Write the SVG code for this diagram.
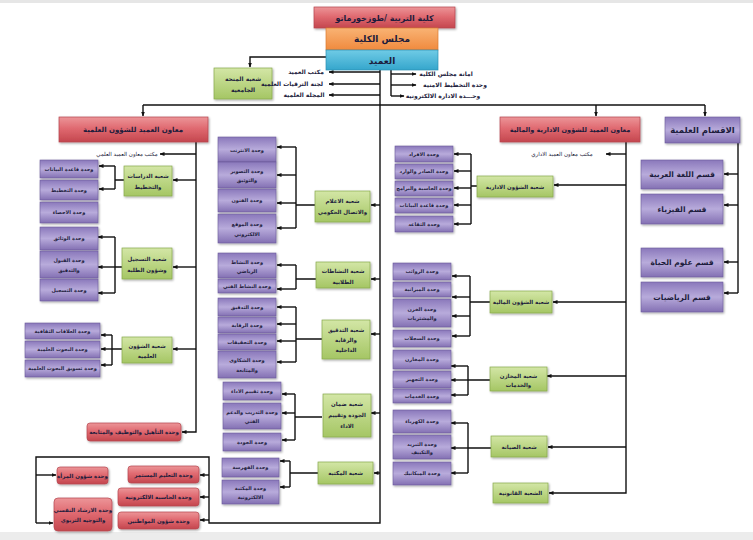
<svg xmlns="http://www.w3.org/2000/svg" width="753" height="540" viewBox="0 0 753 540">
<defs>
<linearGradient id="gR" x1="0" y1="0" x2="0" y2="1"><stop offset="0" stop-color="#ec9598"/><stop offset="0.45" stop-color="#e06a71"/><stop offset="1" stop-color="#c4464e"/></linearGradient>
<linearGradient id="gP" x1="0" y1="0" x2="0" y2="1"><stop offset="0" stop-color="#8a78bb"/><stop offset="0.5" stop-color="#b8abdb"/><stop offset="1" stop-color="#8370b3"/></linearGradient>
<linearGradient id="gG" x1="0" y1="0" x2="0" y2="1"><stop offset="0" stop-color="#d3e6a6"/><stop offset="1" stop-color="#a5c664"/></linearGradient>
<linearGradient id="gO" x1="0" y1="0" x2="0" y2="1"><stop offset="0" stop-color="#f9b374"/><stop offset="1" stop-color="#f08a3e"/></linearGradient>
<linearGradient id="gB" x1="0" y1="0" x2="0" y2="1"><stop offset="0" stop-color="#6fcbe6"/><stop offset="1" stop-color="#35a6cc"/></linearGradient>
<filter id="sh" x="-10%" y="-10%" width="130%" height="150%"><feDropShadow dx="1" dy="1.2" stdDeviation="0.8" flood-color="#000" flood-opacity="0.35"/></filter>
<marker id="ah" viewBox="0 0 10 10" refX="9" refY="5" markerWidth="5" markerHeight="5" markerUnits="userSpaceOnUse" orient="auto"><path d="M0,1 L10,5 L0,9 z" fill="#111"/></marker>
</defs>
<style>
.red{fill:url(#gR);stroke:#b5454d;stroke-width:.7;filter:url(#sh)}
.pur{fill:url(#gP);stroke:#6b5a9c;stroke-width:.6;filter:url(#sh)}
.grn{fill:url(#gG);stroke:#88a94c;stroke-width:.7;filter:url(#sh)}
.org{fill:url(#gO);stroke:#d97a30;stroke-width:.7}
.blu{fill:url(#gB);stroke:#2b8fb3;stroke-width:.7}
.ln{fill:none;stroke:#111;stroke-width:1.4}
.ar{fill:none;stroke:#111;stroke-width:1.4;marker-end:url(#ah)}
text{font-family:"DejaVu Sans","Noto Sans",sans-serif;font-weight:bold;fill:#1c1c3c;text-anchor:middle}
.s5{font-size:5px}.s55{font-size:5.5px}.s6{font-size:6px}.s65{font-size:6.5px}.s7{font-size:7px}.s75{font-size:7.5px}.s8{font-size:8px}.s85{font-size:8.5px}.s9{font-size:9px}
.nw{font-weight:normal}
</style>
<rect x="0" y="0" width="753" height="3" fill="#e6e6e6"/>
<rect x="0" y="532" width="753" height="8" fill="#ececec"/>

<g id="connectors">
<path class="ln" d="M380,70 V523 H209 V457 H36 V523"/>
<path class="ar" d="M36,523 H53"/>
<path class="ar" d="M36,475 H56"/>
<path class="ar" d="M209,475 H200"/>
<path class="ar" d="M209,497 H200"/>
<path class="ar" d="M209,520 H200"/>
<path class="ar" d="M326,57 H250 V67"/>
<path class="ar" d="M380,72 H329"/>
<path class="ar" d="M380,84 H329"/>
<path class="ar" d="M380,95 H329"/>
<path class="ln" d="M391,70 V96"/>
<path class="ar" d="M391,74 H416"/>
<path class="ar" d="M391,85 H416"/>
<path class="ar" d="M391,96 H404"/>
<path class="ln" d="M143,105 H705"/>
<path class="ar" d="M143,105 V116"/>
<path class="ar" d="M596,105 V116"/>
<path class="ar" d="M705,105 V116"/>
<path class="ln" d="M738,143 V293"/>
<path class="ar" d="M738,174 H724"/>
<path class="ar" d="M738,205 H724"/>
<path class="ar" d="M738,262 H724"/>
<path class="ar" d="M738,293 H724"/>
<path class="ar" d="M196,142 V432 H182"/>
<path class="ar" d="M196,154 H160"/>
<path class="ar" d="M196,180 H173"/>
<path class="ar" d="M196,267 H173"/>
<path class="ar" d="M196,349 H173"/>
<path class="ln" d="M124,180 H115 M115,166 V189"/>
<path class="ar" d="M115,166 H99"/>
<path class="ar" d="M115,189 H99"/>
<path class="ln" d="M122,267 H115 M115,237 V293"/>
<path class="ar" d="M115,237 H98"/>
<path class="ar" d="M115,267 H98"/>
<path class="ar" d="M115,293 H98"/>
<path class="ln" d="M122,349 H112 M112,335 V365"/>
<path class="ar" d="M112,335 H101"/>
<path class="ar" d="M112,349 H101"/>
<path class="ar" d="M112,365 H101"/>
<path class="ar" d="M380,205 H371"/>
<path class="ar" d="M380,279 H371"/>
<path class="ar" d="M380,334 H371"/>
<path class="ar" d="M380,413 H371"/>
<path class="ar" d="M380,473 H374"/>
<path class="ln" d="M315,205 H296 M296,147 V228"/>
<path class="ar" d="M296,147 H277"/>
<path class="ar" d="M296,175 H277"/>
<path class="ar" d="M296,203 H277"/>
<path class="ar" d="M296,228 H277"/>
<path class="ln" d="M316,279 H296 M296,265 V289"/>
<path class="ar" d="M296,265 H277"/>
<path class="ar" d="M296,289 H277"/>
<path class="ln" d="M322,339 H296 M296,307 V362"/>
<path class="ar" d="M296,307 H277"/>
<path class="ar" d="M296,324 H277"/>
<path class="ar" d="M296,341 H277"/>
<path class="ar" d="M296,362 H277"/>
<path class="ln" d="M322,417 H295 M295,394 V440"/>
<path class="ar" d="M295,394 H282"/>
<path class="ar" d="M295,413 H282"/>
<path class="ar" d="M295,440 H282"/>
<path class="ln" d="M318,473 H290 M290,461 V487"/>
<path class="ar" d="M290,461 H280"/>
<path class="ar" d="M290,487 H280"/>
<path class="ar" d="M626,142 V493 H549"/>
<path class="ar" d="M626,154 H606"/>
<path class="ar" d="M626,185 H554"/>
<path class="ar" d="M626,302 H553"/>
<path class="ar" d="M626,376 H547"/>
<path class="ar" d="M626,447 H548"/>
<path class="ln" d="M477,186 H471 M471,154 V224"/>
<path class="ar" d="M471,154 H454"/>
<path class="ar" d="M471,171 H454"/>
<path class="ar" d="M471,188 H454"/>
<path class="ar" d="M471,205 H454"/>
<path class="ar" d="M471,224 H454"/>
<path class="ln" d="M490,302 H470 M470,276 V336"/>
<path class="ar" d="M470,276 H452"/>
<path class="ar" d="M470,297 H452"/>
<path class="ar" d="M470,316 H452"/>
<path class="ar" d="M470,336 H452"/>
<path class="ln" d="M490,380 H468 M468,366 V395"/>
<path class="ar" d="M468,366 H451"/>
<path class="ar" d="M468,380 H451"/>
<path class="ar" d="M468,395 H451"/>
<path class="ln" d="M491,448 H468 M468,423 V473"/>
<path class="ar" d="M468,423 H451"/>
<path class="ar" d="M468,448 H451"/>
<path class="ar" d="M468,473 H451"/>
</g>

<g id="college"><rect class="red" x="314" y="7" width="141" height="21"/><text class="s8" x="384.5" y="20.5">كلية التربية /طوزخورماتو</text></g>
<g id="council"><rect class="org" x="326" y="28" width="112" height="22"/><text class="s9" x="382" y="42">مجلس الكلية</text></g>
<g id="dean"><rect class="blu" x="326" y="50" width="112" height="20"/><text class="s9" x="382" y="63.5">العميد</text></g>
<g id="grant"><rect class="grn" x="214" y="68" width="58" height="31"/><text class="s6" x="243" y="81">شعبة المنحة</text><text class="s6" x="243" y="92">الجامعية</text></g>
<g id="dean-office"><text class="s6" x="306" y="74">مكتب العميد</text></g>
<g id="promotion"><text class="s6" x="292" y="86">لجنة الترقيات العلمية</text></g>
<g id="journal"><text class="s6" x="304" y="97">المجلة العلمية</text></g>
<g id="council-sec"><text class="s6" x="446" y="76">امانة مجلس الكلية</text></g>
<g id="security"><text class="s6" x="455" y="87">وحدة التخطيط الامنية</text></g>
<g id="egov"><text class="s6" x="443" y="98">وحـــدة الادارة الالكترونية</text></g>

<g id="vp-sci"><rect class="red" x="59" y="117" width="149" height="25"/><text class="s7" x="133" y="132">معاون العميد للشؤون العلمية</text></g>
<g id="vp-adm"><rect class="red" x="500" y="117" width="140" height="25"/><text class="s65" x="570" y="132">معاون العميد للشؤون الادارية والمالية</text></g>
<g id="depts"><rect class="pur" x="665" y="117" width="75" height="26"/><text class="s85" x="702.5" y="133">الاقسام العلمية</text></g>

<g id="dept-arabic"><rect class="pur" x="641" y="160" width="82" height="29"/><text class="s75" x="682" y="177">قسم اللغة العربية</text></g>
<g id="dept-physics"><rect class="pur" x="641" y="194" width="82" height="30"/><text class="s75" x="682" y="211.5">قسم الفيزياء</text></g>
<g id="dept-bio"><rect class="pur" x="641" y="248" width="82" height="29"/><text class="s75" x="682" y="265">قسم علوم الحياة</text></g>
<g id="dept-math"><rect class="pur" x="641" y="282" width="82" height="30"/><text class="s75" x="682" y="299.5">قسم الرياضيات</text></g>

<g id="vp-sci-office"><text class="s55 nw" x="127" y="156">مكتب معاون العميد العلمي</text></g>
<g id="studies"><rect class="grn" x="124" y="166" width="48" height="30"/><text class="s55" x="148" y="178">شعبة الدراسات</text><text class="s55" x="148" y="189">والتخطيط</text></g>
<g id="u-database1"><rect class="pur" x="40" y="160" width="58" height="18"/><text class="s5" x="69" y="170.5">وحدة قاعدة البيانات</text></g>
<g id="u-planning"><rect class="pur" x="40" y="180" width="58" height="20"/><text class="s5" x="69" y="191.5">وحدة التخطيط</text></g>
<g id="u-stats"><rect class="pur" x="40" y="202" width="58" height="21"/><text class="s5" x="69" y="214">وحدة الاحصاء</text></g>

<g id="registration"><rect class="grn" x="122" y="248" width="50" height="31"/><text class="s55" x="147" y="261">شعبة التسجيل</text><text class="s55" x="147" y="272">وشؤون الطلبة</text></g>
<g id="u-docs"><rect class="pur" x="40" y="227" width="58" height="23"/><text class="s5" x="69" y="240">وحدة الوثائق</text></g>
<g id="u-admission"><rect class="pur" x="40" y="251" width="58" height="27"/><text class="s5" x="69" y="262">وحدة القبول</text><text class="s5" x="69" y="272">والتدقيق</text></g>
<g id="u-register"><rect class="pur" x="40" y="279" width="58" height="22"/><text class="s5" x="69" y="291.5">وحدة التسجيل</text></g>

<g id="sci-affairs"><rect class="grn" x="122" y="337" width="50" height="26"/><text class="s55" x="147" y="347.5">شعبة الشؤون</text><text class="s55" x="147" y="358">العلمية</text></g>
<g id="u-cultural"><rect class="pur" x="25" y="323" width="75" height="16"/><text class="s5" x="62.5" y="332.5">وحدة العلاقات الثقافية</text></g>
<g id="u-research"><rect class="pur" x="25" y="341" width="75" height="17"/><text class="s5" x="62.5" y="351">وحدة البحوث العلمية</text></g>
<g id="u-marketing"><rect class="pur" x="25" y="360" width="75" height="17"/><text class="s5" x="62.5" y="370">وحدة تسويق البحوث العلمية</text></g>
<g id="u-rehab"><rect class="red" x="87" y="423" width="94" height="18" rx="3"/><text class="s55" x="134" y="434">وحدة التأهيل والتوظيف والمتابعة</text></g>

<g id="u-continuing"><rect class="red" x="128" y="466" width="71" height="17" rx="3"/><text class="s55" x="163.5" y="476.5">وحدة التعليم المستمر</text></g>
<g id="u-computer"><rect class="red" x="118" y="488" width="81" height="18" rx="3"/><text class="s55" x="158.5" y="499">وحدة الحاسبة الالكترونية</text></g>
<g id="u-citizens"><rect class="red" x="118" y="512" width="81" height="17" rx="3"/><text class="s55" x="158.5" y="522.5">وحدة شؤون المواطنين</text></g>
<g id="u-women"><rect class="red" x="57" y="467" width="51" height="17" rx="3"/><text class="s55" x="82.5" y="477.5">وحدة شؤون المرأة</text></g>
<g id="u-guidance"><rect class="red" x="54" y="498" width="58" height="33" rx="4"/><text class="s55" x="83" y="512">وحدة الارشاد النفسي</text><text class="s55" x="83" y="522">والتوجيه التربوي</text></g>

<g id="media"><rect class="grn" x="315" y="191" width="55" height="31"/><text class="s55" x="342.5" y="203">شعبة الاعلام</text><text class="s55" x="342.5" y="214">والاتصال الحكومي</text></g>
<g id="u-internet"><rect class="pur" x="218" y="137" width="58" height="25"/><text class="s5" x="247" y="151.5">وحدة الانترنت</text></g>
<g id="u-photo"><rect class="pur" x="218" y="162" width="58" height="26"/><text class="s5" x="247" y="173">وحدة التصوير</text><text class="s5" x="247" y="182">والتوثيق</text></g>
<g id="u-arts"><rect class="pur" x="218" y="189" width="58" height="23"/><text class="s5" x="247" y="202">وحدة الفنون</text></g>
<g id="u-website"><rect class="pur" x="218" y="214" width="58" height="29"/><text class="s5" x="247" y="226">وحدة الموقع</text><text class="s5" x="247" y="236">الالكتروني</text></g>

<g id="activities"><rect class="grn" x="316" y="262" width="54" height="26"/><text class="s55" x="343" y="273">شعبة النشاطات</text><text class="s55" x="343" y="283.5">الطلابية</text></g>
<g id="u-sport"><rect class="pur" x="218" y="253" width="58" height="25"/><text class="s5" x="247" y="264">وحدة النشاط</text><text class="s5" x="247" y="273">الرياضي</text></g>
<g id="u-art"><rect class="pur" x="218" y="279" width="58" height="14"/><text class="s5" x="247" y="287.5">وحدة النشاط الفني</text></g>

<g id="audit"><rect class="grn" x="322" y="320" width="48" height="39"/><text class="s55" x="346" y="332">شعبة التدقيق</text><text class="s55" x="346" y="342">والرقابة</text><text class="s55" x="346" y="352">الداخلية</text></g>
<g id="u-audit"><rect class="pur" x="218" y="298" width="58" height="18"/><text class="s5" x="247" y="308.5">وحدة التدقيق</text></g>
<g id="u-control"><rect class="pur" x="218" y="317" width="58" height="16"/><text class="s5" x="247" y="326.5">وحدة الرقابة</text></g>
<g id="u-invest"><rect class="pur" x="218" y="334" width="58" height="16"/><text class="s5" x="247" y="343.5">وحدة التحقيقات</text></g>
<g id="u-complaints"><rect class="pur" x="218" y="351" width="58" height="27"/><text class="s5" x="247" y="362">وحدة الشكاوى</text><text class="s5" x="247" y="372">والمتابعة</text></g>

<g id="quality"><rect class="grn" x="323" y="394" width="48" height="43"/><text class="s55" x="347" y="406">شعبة ضمان</text><text class="s55" x="347" y="417">الجودة وتقييم</text><text class="s55" x="347" y="428">الاداء</text></g>
<g id="u-eval"><rect class="pur" x="223" y="382" width="58" height="18"/><text class="s5" x="252" y="392.5">وحدة تقييم الاداء</text></g>
<g id="u-training"><rect class="pur" x="223" y="403" width="58" height="26"/><text class="s5" x="252" y="414">وحدة التدريب والدعم</text><text class="s5" x="252" y="423">الفني</text></g>
<g id="u-quality"><rect class="pur" x="223" y="433" width="58" height="18"/><text class="s5" x="252" y="443.5">وحدة الجودة</text></g>

<g id="library"><rect class="grn" x="318" y="462" width="55" height="22"/><text class="s55" x="345.5" y="475">شعبة المكتبة</text></g>
<g id="u-index"><rect class="pur" x="222" y="458" width="57" height="19"/><text class="s5" x="250.5" y="469">وحدة الفهرسة</text></g>
<g id="u-elib"><rect class="pur" x="222" y="480" width="57" height="24"/><text class="s5" x="250.5" y="490">وحدة المكتبة</text><text class="s5" x="250.5" y="499">الالكترونية</text></g>

<g id="vp-adm-office"><text class="s55 nw" x="562" y="156">مكتب معاون العميد الاداري</text></g>
<g id="admin"><rect class="grn" x="477" y="176" width="76" height="21"/><text class="s55" x="515" y="188.5">شعبة الشؤون الادارية</text></g>
<g id="u-staff"><rect class="pur" x="395" y="146" width="58" height="16"/><text class="s5" x="424" y="155.5">وحدة الافراد</text></g>
<g id="u-mail"><rect class="pur" x="395" y="164" width="58" height="15"/><text class="s5" x="424" y="173">وحدة الصادر والوارد</text></g>
<g id="u-pc"><rect class="pur" x="395" y="181" width="58" height="15"/><text class="s5" x="424" y="190">وحدة الحاسبة والبرامج</text></g>
<g id="u-database2"><rect class="pur" x="395" y="198" width="58" height="15"/><text class="s5" x="424" y="207">وحدة قاعدة البيانات</text></g>
<g id="u-retire"><rect class="pur" x="395" y="216" width="58" height="16"/><text class="s5" x="424" y="225.5">وحدة التقاعد</text></g>

<g id="finance"><rect class="grn" x="490" y="291" width="62" height="22"/><text class="s55" x="521" y="304">شعبة الشؤون المالية</text></g>
<g id="u-salary"><rect class="pur" x="393" y="263" width="58" height="17"/><text class="s5" x="422" y="273">وحدة الرواتب</text></g>
<g id="u-budget"><rect class="pur" x="393" y="282" width="58" height="15"/><text class="s5" x="422" y="291">وحدة الميزانية</text></g>
<g id="u-procure"><rect class="pur" x="393" y="299" width="58" height="28"/><text class="s5" x="422" y="311">وحدة الخزن</text><text class="s5" x="422" y="320">والمشتريات</text></g>
<g id="u-records"><rect class="pur" x="393" y="330" width="58" height="17"/><text class="s5" x="422" y="340">وحدة السجلات</text></g>

<g id="stores"><rect class="grn" x="490" y="367" width="57" height="24"/><text class="s55" x="518.5" y="377.5">شعبة المخازن</text><text class="s55" x="518.5" y="387">والخدمات</text></g>
<g id="u-stores"><rect class="pur" x="393" y="350" width="58" height="19"/><text class="s5" x="422" y="361">وحدة المخازن</text></g>
<g id="u-supply"><rect class="pur" x="393" y="371" width="58" height="17"/><text class="s5" x="422" y="381">وحدة التجهيز</text></g>
<g id="u-services"><rect class="pur" x="393" y="389" width="58" height="14"/><text class="s5" x="422" y="397.5">وحدة الخدمات</text></g>

<g id="maintenance"><rect class="grn" x="491" y="436" width="56" height="21"/><text class="s55" x="519" y="449">شعبة الصيانة</text></g>
<g id="u-electric"><rect class="pur" x="393" y="410" width="58" height="23"/><text class="s5" x="422" y="423">وحدة الكهرباء</text></g>
<g id="u-hvac"><rect class="pur" x="393" y="435" width="58" height="24"/><text class="s5" x="422" y="445.5">وحدة التبريد</text><text class="s5" x="422" y="454">والتكييف</text></g>
<g id="u-mech"><rect class="pur" x="393" y="462" width="58" height="23"/><text class="s5" x="422" y="475">وحدة الميكانيك</text></g>

<g id="legal"><rect class="grn" x="493" y="483" width="55" height="20"/><text class="s55" x="520.5" y="495">الشعبة القانونية</text></g>
</svg>
